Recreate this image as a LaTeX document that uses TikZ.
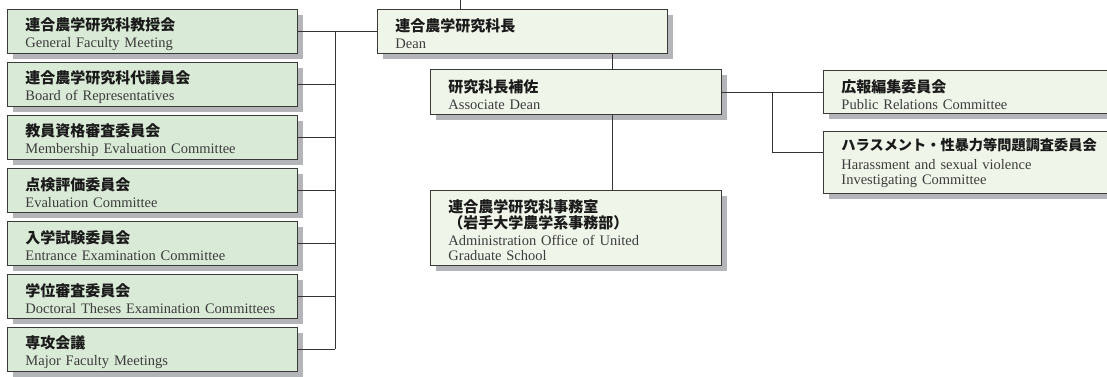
\documentclass[tikz,border=0pt]{standalone}
\usepackage{fontspec}
\setmainfont{Liberation Serif}
\newfontfamily\jpfont{Noto Sans CJK JP}
\usetikzlibrary{shadows,calc}
\definecolor{bordercol}{HTML}{3A3A3A}
\definecolor{greenfill}{HTML}{D9EAD6}
\definecolor{palefill}{HTML}{F0F5E9}
\definecolor{shadowcol}{HTML}{B4B5B9}
\definecolor{entext}{HTML}{3C3C3C}
\definecolor{jptext}{HTML}{1A1A1A}
\definecolor{linecol}{HTML}{333333}
\newcommand\jp[2][15]{{\jpfont\bfseries\fontsize{#1}{15}\selectfont\color{jptext}#2}}
\newcommand\tp{\rule{0pt}{18pt}}
\begin{document}
\begin{tikzpicture}[x=1pt,y=-1pt,
  box/.style={draw=bordercol, line width=0.9pt, anchor=north west, inner xsep=18pt, inner ysep=0pt,
    align=left, text=entext, font=\fontsize{14.5}{15}\selectfont,
    drop shadow={shadow xshift=5.5pt, shadow yshift=-5.5pt, fill=shadowcol, opacity=1}},
  lbox/.style={box, fill=greenfill, text width=254pt, minimum height=44pt},
  pbox/.style={box, fill=palefill},
  conn/.style={draw=linecol, line width=0.9pt}]
\useasboundingbox (0,0) rectangle (1107,376);

\node[lbox] (b1) at (7,9)   {\tp\jp{連合農学研究科教授会}\\[2pt]General Faculty Meeting};
\node[lbox] (b2) at (7,62)  {\tp\jp{連合農学研究科代議員会}\\[2pt]Board of Representatives};
\node[lbox] (b3) at (7,115) {\tp\jp{教員資格審査委員会}\\[2pt]Membership Evaluation Committee};
\node[lbox] (b4) at (7,168) {\tp\jp{点検評価委員会}\\[2pt]Evaluation Committee};
\node[lbox] (b5) at (7,221) {\tp\jp{入学試験委員会}\\[2pt]Entrance Examination Committee};
\node[lbox] (b6) at (7,274) {\tp\jp{学位審査委員会}\\[2pt]Doctoral Theses Examination Committees};
\node[lbox] (b7) at (7,327) {\tp\jp{専攻会議}\\[2pt]Major Faculty Meetings};

\node[pbox, text width=254pt, minimum height=44pt] (dean) at (377,9) {\tp\jp{連合農学研究科長}\\[2pt]Dean};
\node[pbox, text width=255pt, minimum height=45pt] (assoc) at (430,69) {\tp\jp{研究科長補佐}\\[2pt]Associate Dean};
\node[pbox, text width=255pt, minimum height=75pt] (admin) at (430,190) {\tp\jp{連合農学研究科事務室}\\[1pt]\jp{（岩手大学農学系事務部）}\\[2pt]Administration Office of United\\Graduate School};
\node[pbox, text width=264pt, minimum height=43pt] (pr) at (823,70) {\tp\jp{広報編集委員会}\\[2pt]Public Relations Committee};
\node[pbox, text width=264pt, minimum height=62pt] (harass) at (823,131) {\jp[14.2]{ハラスメント・性暴力等問題調査委員会}\\[4pt]Harassment and sexual violence\\Investigating Committee};

\coordinate (bus) at (335,0);
\foreach \i in {b1,b2,b3,b4,b5,b6,b7} {\draw[conn] (\i.east) -- (\i.east -| bus);}
\draw[conn] (b1.east -| bus) -- (b7.east -| bus);
\draw[conn] (b1.east) -- (dean.west);
\coordinate (topend) at (460,-2);
\draw[conn] (topend) -- (topend |- dean.north);
\coordinate (vx) at (612,0);
\draw[conn] (dean.south -| vx) -- (assoc.north -| vx);
\draw[conn] (assoc.south -| vx) -- (admin.north -| vx);
\draw[conn] (assoc.east) -- (pr.west);
\coordinate (rb) at (772,0);
\draw[conn] (assoc.east -| rb) |- ($(harass.west)+(0,-10)$);
\end{tikzpicture}
\end{document}
